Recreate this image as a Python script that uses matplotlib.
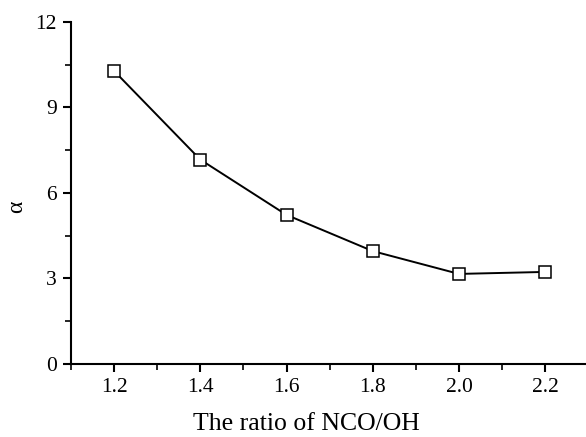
import matplotlib
matplotlib.use("Agg")
import matplotlib.pyplot as plt
from matplotlib.ticker import MultipleLocator

ratio = [1.2, 1.4, 1.6, 1.8, 2.0, 2.2]
alpha = [10.28, 7.17, 5.23, 3.96, 3.16, 3.23]
xticks = [1.2, 1.4, 1.6, 1.8, 2.0, 2.2]
xticklabels = ["1.2", "1.4", "1.6", "1.8", "2.0", "2.2"]
yticks = [0, 3, 6, 9, 12]

plt.rcParams['font.family'] = ['Liberation Serif', 'DejaVu Serif']

fig = plt.figure(figsize=(5.86, 4.37), dpi=100)
ax = fig.add_axes([0.121, 0.167, 0.883, 0.783])
ax.plot(ratio, alpha, color='black', linewidth=1.4, marker='s', markersize=8.5,
        markerfacecolor='white', markeredgecolor='black', markeredgewidth=1.1)
ax.set_xlim(1.1, 2.3)
ax.set_ylim(0, 12)
ax.set_xticks(xticks)
ax.set_xticklabels(xticklabels)
ax.set_yticks(yticks)
ax.xaxis.set_minor_locator(MultipleLocator(0.1))
ax.yaxis.set_minor_locator(MultipleLocator(1.5))
for s in ['top', 'right']:
    ax.spines[s].set_visible(False)
for s in ['left', 'bottom']:
    ax.spines[s].set_linewidth(1.5)
ax.tick_params(axis='both', which='major', direction='out', length=6, width=1.5, labelsize=15.5, pad=4)
ax.tick_params(axis='both', which='minor', direction='out', length=4, width=1.2)
fig.text(306 / 586, 1 - 424 / 437, 'The ratio of NCO/OH', fontsize=18.5,
         ha='center', va='center')
fig.text(17 / 586, 1 - 207 / 437, 'α', fontsize=17, rotation=90,
         ha='center', va='center')
fig.savefig('out.png', dpi=100)
